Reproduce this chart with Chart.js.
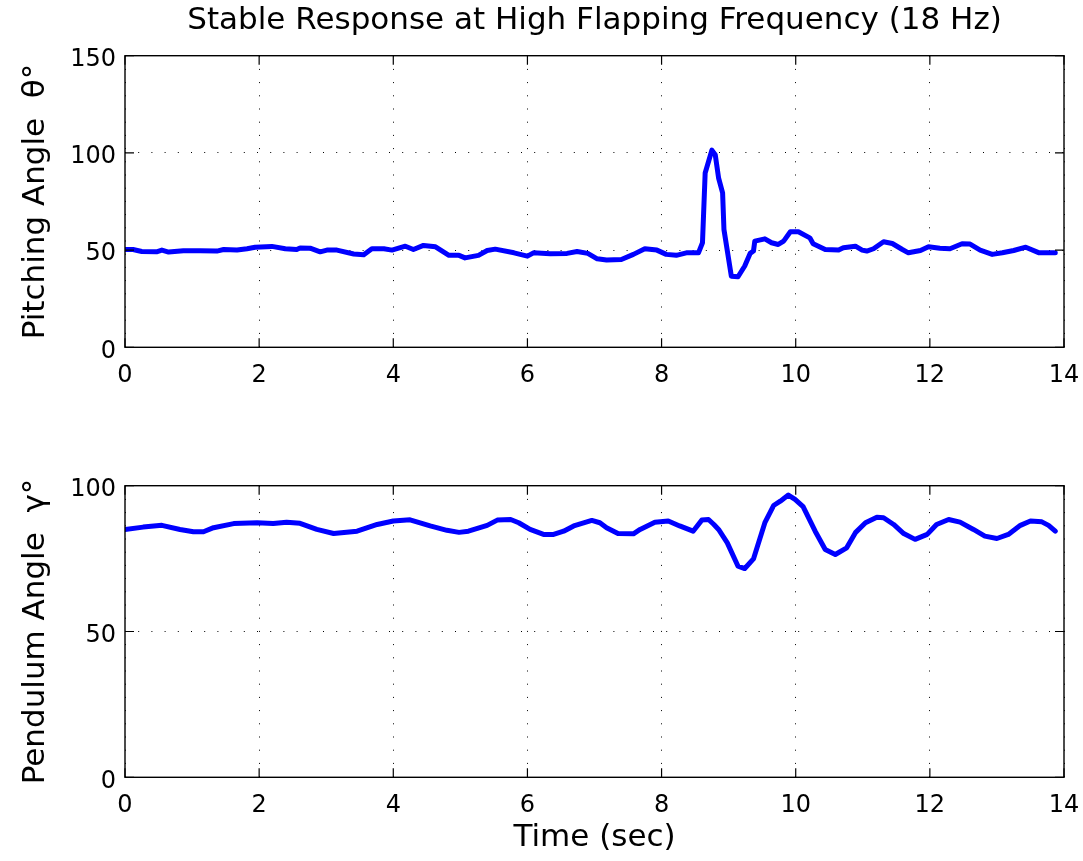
<!DOCTYPE html>
<html><head><meta charset="utf-8">
<script src="https://cdn.jsdelivr.net/npm/chart.js@4"></script>
<style>
html,body{margin:0;padding:0;background:#fff;}
#c1{position:absolute;left:0;top:0;}
#c2{position:absolute;left:0;top:430px;}
</style>
</head><body>
<canvas id="c1" width="1083" height="430"></canvas>
<canvas id="c2" width="1083" height="431"></canvas>
<script>
const chartTitle = 'Stable Response at High Flapping Frequency (18 Hz)';
const pitchLabel = 'Pitching Angle  \u03B8\u00B0';
const pendLabel = 'Pendulum Angle  \u03B3\u00B0';
const timeLabel = 'Time (sec)';
const timeTicks = [0, 2, 4, 6, 8, 10, 12, 14];
const pitchTicks = [0, 50, 100, 150];
const pendTicks = [0, 50, 100];

const pitchTime = [0, 0.12, 0.25, 0.47, 0.55, 0.65, 0.87, 1.12, 1.37, 1.47, 1.67, 1.82, 1.94, 2.19, 2.39, 2.56, 2.61, 2.76, 2.91, 3.01, 3.16, 3.41, 3.56, 3.68, 3.86, 3.98, 4.18, 4.3, 4.45, 4.63, 4.83, 4.98, 5.07, 5.27, 5.4, 5.52, 5.8, 6.0, 6.09, 6.34, 6.59, 6.74, 6.9, 7.04, 7.18, 7.4, 7.58, 7.75, 7.93, 8.07, 8.22, 8.37, 8.55, 8.61, 8.65, 8.75, 8.8, 8.85, 8.91, 8.93, 9.04, 9.14, 9.24, 9.32, 9.37, 9.39, 9.54, 9.64, 9.74, 9.82, 9.92, 10.04, 10.21, 10.26, 10.44, 10.64, 10.71, 10.89, 10.99, 11.06, 11.16, 11.31, 11.44, 11.59, 11.68, 11.86, 11.98, 12.15, 12.3, 12.48, 12.6, 12.75, 12.93, 13.08, 13.25, 13.43, 13.63, 13.87];
const pitchValues = [50.3, 50.3, 49.3, 49.1, 50, 49, 49.7, 49.7, 49.5, 50.3, 50, 50.7, 51.5, 51.9, 50.7, 50.3, 51.1, 51, 49.1, 50, 50, 48, 47.6, 50.7, 50.7, 50, 52, 50.3, 52.4, 51.7, 47.3, 47.3, 46, 47.3, 49.8, 50.5, 48.6, 46.9, 48.6, 48.1, 48.3, 49.3, 48.3, 45.5, 44.9, 45.2, 47.8, 50.7, 50, 47.8, 47.3, 48.6, 48.6, 53.8, 89.7, 101.4, 99.1, 87.1, 79.4, 60.6, 36.6, 36.3, 41.8, 48.3, 49.5, 54.6, 55.8, 53.8, 52.9, 54.6, 59.4, 59.4, 56.3, 53.3, 50.3, 50, 51.2, 52, 50, 49.5, 50.7, 54.3, 53.4, 50.3, 48.6, 49.8, 51.7, 51, 50.7, 53.3, 53.1, 50, 47.8, 48.6, 49.8, 51.5, 48.6, 48.6];

const pendTime = [0, 0.27, 0.55, 0.82, 1.02, 1.17, 1.32, 1.62, 1.97, 2.21, 2.41, 2.61, 2.86, 3.11, 3.46, 3.76, 4.0, 4.25, 4.55, 4.8, 4.98, 5.12, 5.4, 5.55, 5.75, 5.87, 6.04, 6.24, 6.39, 6.54, 6.69, 6.96, 7.08, 7.18, 7.35, 7.58, 7.68, 7.9, 8.1, 8.27, 8.47, 8.6, 8.7, 8.78, 8.85, 8.98, 9.14, 9.24, 9.37, 9.54, 9.67, 9.77, 9.89, 9.99, 10.11, 10.29, 10.44, 10.59, 10.76, 10.89, 11.04, 11.21, 11.31, 11.46, 11.61, 11.78, 11.96, 12.1, 12.28, 12.45, 12.65, 12.82, 13.0, 13.17, 13.35, 13.5, 13.67, 13.77, 13.87];
const pendValues = [85.0, 85.8, 86.4, 85.0, 84.2, 84.2, 85.6, 87.0, 87.3, 87.0, 87.5, 87.1, 85.0, 83.6, 84.4, 86.7, 87.9, 88.3, 86.2, 84.7, 84.0, 84.4, 86.4, 88.2, 88.4, 87.3, 85.0, 83.3, 83.3, 84.4, 86.2, 88.1, 87.3, 85.6, 83.6, 83.5, 85.0, 87.5, 87.9, 86.2, 84.4, 88.2, 88.4, 86.7, 85.0, 80.4, 72.4, 71.6, 74.9, 87.3, 93.2, 94.7, 96.8, 95.3, 92.8, 84.4, 78.1, 76.4, 78.7, 83.9, 87.3, 89.2, 89.0, 86.7, 83.6, 81.6, 83.3, 86.7, 88.4, 87.5, 85.0, 82.7, 81.9, 83.3, 86.4, 87.9, 87.6, 86.4, 84.4];

Chart.defaults.font.family = "'DejaVu Sans', sans-serif";
Chart.defaults.color = '#000';

const framePlugin = {
  id: 'frame',
  afterDatasetsDraw(chart) {
    const {ctx, chartArea: a, scales: {x, y}} = chart;
    ctx.save();
    ctx.strokeStyle = '#000';
    ctx.lineWidth = 1.4;
    ctx.strokeRect(a.left, a.top, a.right - a.left, a.bottom - a.top);
    ctx.lineWidth = 1.2;
    const L = 9;
    ctx.beginPath();
    x.ticks.forEach(t => {
      const p = x.getPixelForValue(t.value);
      ctx.moveTo(p, a.bottom); ctx.lineTo(p, a.bottom - L);
      ctx.moveTo(p, a.top); ctx.lineTo(p, a.top + L);
    });
    y.ticks.forEach(t => {
      const p = y.getPixelForValue(t.value);
      ctx.moveTo(a.left, p); ctx.lineTo(a.left + L, p);
      ctx.moveTo(a.right, p); ctx.lineTo(a.right - L, p);
    });
    ctx.stroke();
    ctx.restore();
  }
};

function zeroPad(s) { s.paddingLeft = 0; s.paddingRight = 0; s.paddingTop = 0; s.paddingBottom = 0; }

function makeChart(id, times, values, yTicks, yLabel, showTitle, showXTitle, xHeight, topPad) {
  const pts = values.map((v, i) => ({x: times[i], y: v}));
  return new Chart(document.getElementById(id), {
    type: 'line',
    data: {datasets: [{data: pts, borderColor: '#0000ff', borderWidth: 5, pointRadius: 0,
      tension: 0, borderJoinStyle: 'round', borderCapStyle: 'round', fill: false}]},
    options: {
      responsive: false, animation: false, events: [],
      layout: {autoPadding: false, padding: {left: 0, right: 19, top: topPad, bottom: 0}},
      plugins: {
        legend: {display: false}, tooltip: {enabled: false},
        title: {display: showTitle, text: chartTitle, fullSize: false, color: '#000',
          font: {size: 31, weight: 'normal'}, padding: {top: 2.5, bottom: 16.0}}
      },
      scales: {
        x: {type: 'linear', min: 0, max: 14,
          afterBuildTicks: s => { s.ticks = timeTicks.map(v => ({value: v})); },
          afterFit: s => { s.height = xHeight; zeroPad(s); },
          ticks: {font: {size: 24}, padding: 13.9, color: '#000', maxRotation: 0, autoSkip: false},
          grid: {color: '#000', lineWidth: 1, drawTicks: false},
          border: {display: false, dash: [1, 12.2]},
          title: {display: showXTitle, text: timeLabel, font: {size: 31}, color: '#000', padding: {top: 0, bottom: 4}}
        },
        y: {type: 'linear', min: 0, max: yTicks[yTicks.length - 1],
          afterBuildTicks: s => { s.ticks = yTicks.map(v => ({value: v})); },
          afterFit: s => { s.width = 125; zeroPad(s); },
          ticks: {font: {size: 24}, padding: 9, color: '#000', labelOffset: 4, autoSkip: false},
          grid: {color: '#000', lineWidth: 1, drawTicks: false},
          border: {display: false, dash: [1, 12.2]},
          title: {display: true, text: yLabel, font: {size: 31}, color: '#000', padding: {top: 17.4, bottom: 0}}
        }
      }
    },
    plugins: [framePlugin]
  });
}

makeChart('c1', pitchTime, pitchValues, pitchTicks, pitchLabel, true, false, 82.7, 0);
makeChart('c2', pendTime, pendValues, pendTicks, pendLabel, false, true, 83.7, 55.7);
</script>
</body></html>
